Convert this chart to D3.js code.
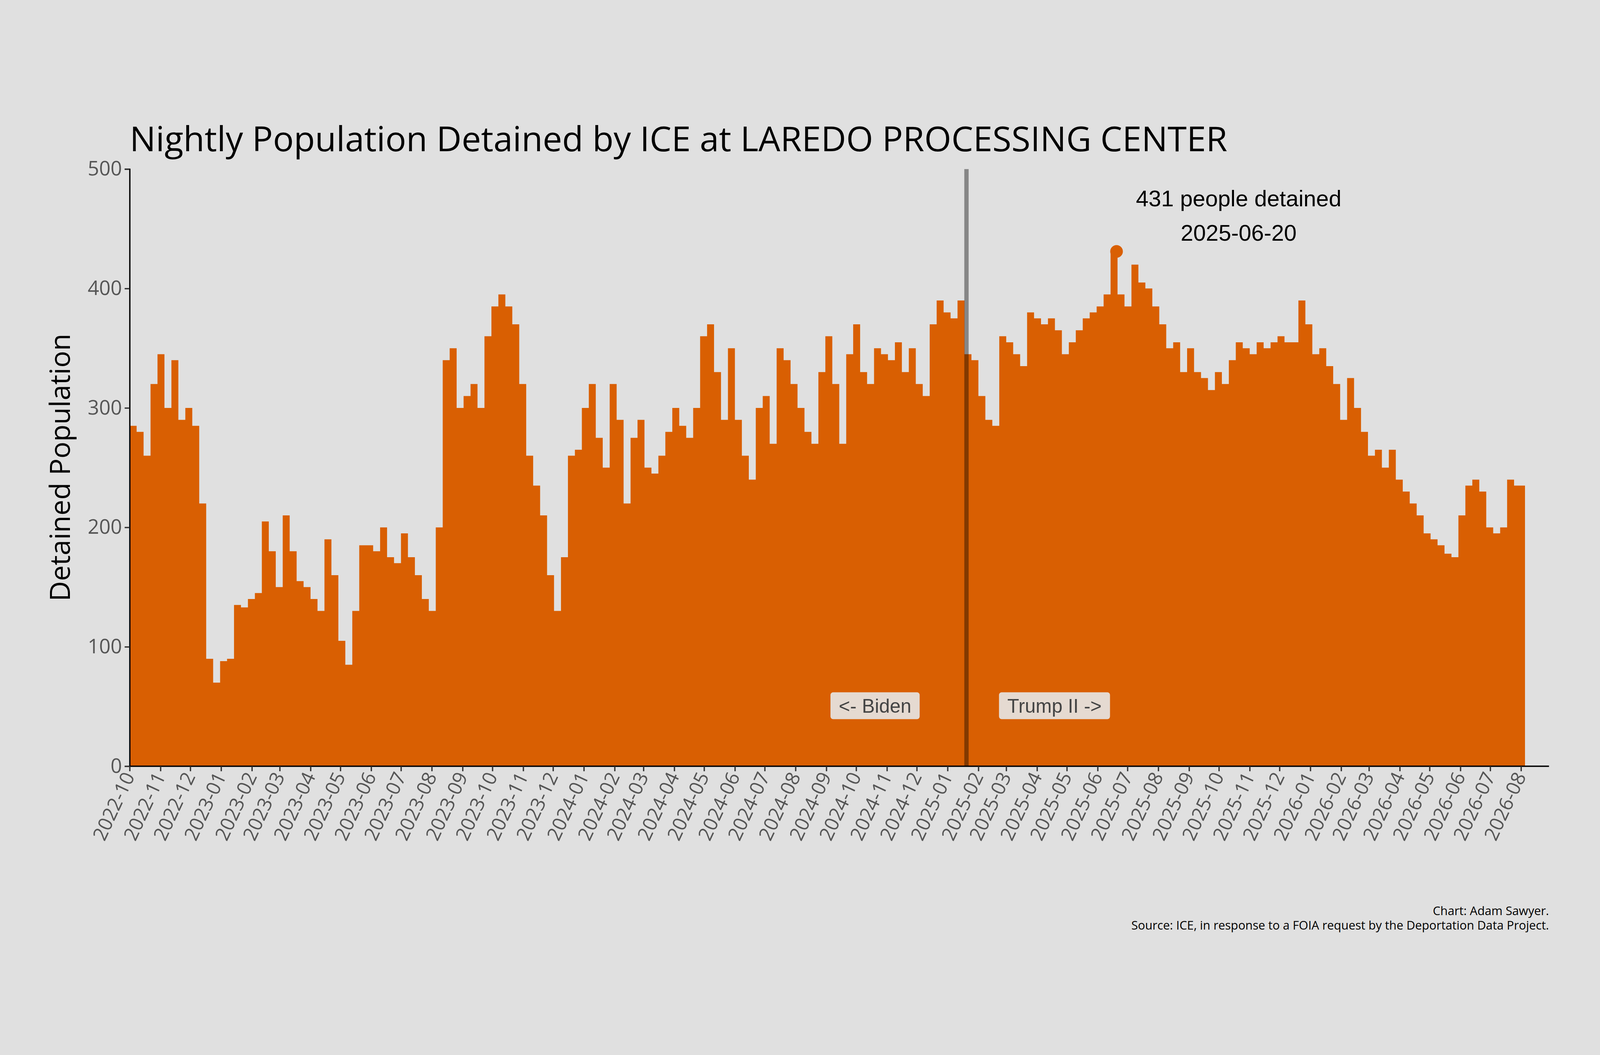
<!DOCTYPE html>
<html><head><meta charset="utf-8">
<script src="https://cdn.jsdelivr.net/npm/d3@7"></script>
<style>html,body{margin:0;padding:0;background:#e0e0e0;overflow:hidden;width:100vw;height:100vh;}svg{display:block;}</style>
</head><body>
<script>
// Weekly readings (week starting dates from 2022-10-01)
const startDate = "2022-10-01";
const endDate = "2026-08-05";
const weeklyValues = [
285,280,260,320,345,300,340,290,300,285,220,90,70,88,90,135,133,140,145,205,180,150,210,180,155,150,140,130,190,160,105,85,130,185,185,180,200,175,170,195,175,160,140,130,200,340,350,300,310,320,300,360,385,395,385,370,320,260,235,210,160,130,175,260,265,300,
320,275,250,320,290,220,275,290,250,245,260,280,300,285,275,300,360,370,330,290,350,290,260,240,300,310,270,350,340,320,300,280,270,330,360,320,270,345,370,330,320,350,345,340,355,330,350,320,310,370,390,380,
375,390,345,340,310,290,285,360,355,345,335,380,375,370,375,365,345,355,365,375,380,385,395,431,395,385,420,405,400,385,370,350,355,330,350,330,325,315,330,320,340,355,350,345,355,350,355,360,355,355,390,370,
345,350,335,320,290,325,300,280,260,265,250,265,240,230,220,210,195,190,185,178,175,210,235,240,230,200,195,200,240,235];
const peakDate = "2025-06-20", peakValue = 431;
const inaugDate = "2025-01-20";
const yTicks = [0,100,200,300,400,500];

const W=4800,H=2700;
const svg=d3.select("body").append("svg").attr("viewBox",`0 0 ${W} ${H}`)
 .attr("width","100%").attr("height","100%").attr("preserveAspectRatio","xMidYMid meet").style("background","#e0e0e0");
const parse=d3.utcParse("%Y-%m-%d");
const t0=parse(startDate), t1=parse(endDate);
const data=weeklyValues.map((v,i)=>({d:d3.utcDay.offset(t0,i*7),v}));
const x=d3.scaleUtc().domain([t0,t1]).range([389,4575]);
const y=d3.scaleLinear().domain([0,500]).range([2066,275]);

const pts=data.concat([{d:t1,v:data[data.length-1].v}]);
svg.append("path").datum(pts)
 .attr("d",d3.area().curve(d3.curveStepAfter).x(d=>x(d.d)).y0(y(0)).y1(d=>y(d.v)))
 .attr("fill","#d95f02");

svg.append("line").attr("x1",x(parse(inaugDate))).attr("x2",x(parse(inaugDate)))
 .attr("y1",y(500)).attr("y2",y(0)).attr("stroke","#000").attr("stroke-opacity",0.4).attr("stroke-width",13);

const yAx=svg.append("g").attr("transform","translate(389,0)")
 .call(d3.axisLeft(y).tickValues(yTicks).tickSize(15).tickPadding(8));
yAx.select(".domain").attr("stroke","#000").attr("stroke-width",4);
yAx.selectAll(".tick line").attr("stroke","#333").attr("stroke-width",4);
yAx.selectAll("text").attr("font-family","Open Sans").attr("font-size",60).attr("fill","#555");

const xAx=svg.append("g").attr("transform","translate(0,2066)")
 .call(d3.axisBottom(x).ticks(d3.utcMonth.every(1)).tickFormat(d3.utcFormat("%Y-%m")).tickSize(15).tickSizeOuter(0));
xAx.select(".domain").attr("d","M389,0H4647").attr("stroke","#000").attr("stroke-width",4);
xAx.selectAll(".tick line").attr("stroke","#333").attr("stroke-width",4);
xAx.selectAll("text").attr("font-family","Open Sans").attr("font-size",58).attr("fill","#555")
 .attr("text-anchor","end").attr("dy",0).attr("y",0)
 .attr("transform","translate(16,30) rotate(-65)");

svg.append("text").attr("x",389).attr("y",222).attr("font-family","Open Sans").attr("font-size",104).attr("fill","#000")
 .text("Nightly Population Detained by ICE at LAREDO PROCESSING CENTER");
svg.append("text").attr("transform","translate(210,1170) rotate(-90)").attr("text-anchor","middle")
 .attr("font-family","Open Sans").attr("font-size",84).attr("fill","#000").text("Detained Population");

svg.append("circle").attr("cx",x(parse(peakDate))).attr("cy",y(peakValue)).attr("r",19).attr("fill","#d95f02");
svg.append("text").attr("x",3716).attr("y",387).attr("text-anchor","middle").attr("font-family","Liberation Sans").attr("font-size",68)
 .text(peakValue+" people detained");
svg.append("text").attr("x",3716).attr("y",490).attr("text-anchor","middle").attr("font-family","Liberation Sans").attr("font-size",68)
 .text(peakDate);

function box(txt,xx,anchor){
 const g=svg.append("g");
 const tx=g.append("text").attr("x",xx).attr("y",1905).attr("text-anchor",anchor).attr("font-family","Liberation Sans")
  .attr("font-size",58).attr("fill","#444").text(txt);
 const b=tx.node().getBBox();
 g.insert("rect","text").attr("x",b.x-25).attr("y",b.y-8).attr("width",b.width+50).attr("height",b.height+16)
  .attr("rx",8).attr("fill","#e6e0dc").attr("fill-opacity",0.95);
}
box("<- Biden",2734,"end");
box("Trump II ->",3022,"start");

svg.append("text").attr("x",4647).attr("y",2512).attr("text-anchor","end").attr("font-family","Open Sans").attr("font-size",36).text("Chart: Adam Sawyer.");
svg.append("text").attr("x",4647).attr("y",2556).attr("text-anchor","end").attr("font-family","Open Sans").attr("font-size",36).text("Source: ICE, in response to a FOIA request by the Deportation Data Project.");
</script>
</body></html>
